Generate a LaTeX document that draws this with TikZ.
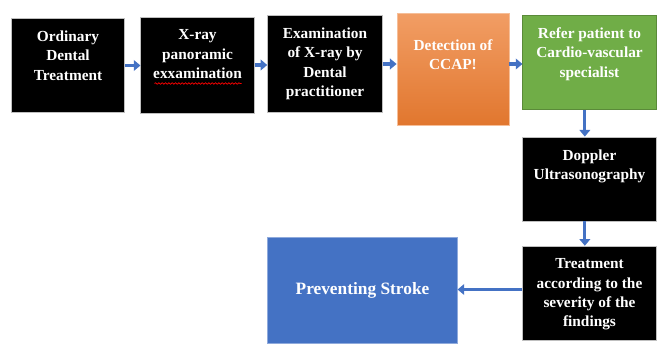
\documentclass[tikz,border=0pt]{standalone}
\usepackage{fontspec}
\setmainfont{Liberation Serif}
\usepackage{tikz}
\usetikzlibrary{positioning, arrows.meta, shapes.misc, decorations.pathmorphing}
\definecolor{myblue}{HTML}{4472C4}
\definecolor{myorange}{HTML}{ED7D31}
\definecolor{mygreen}{HTML}{70AD47}
\newcommand{\boxtxt}[3]{\parbox[c][#2][t]{#1}{\centering\vspace*{6.5pt}#3}}
\tikzset{
	stepnode/.style={
			rectangle,
			draw=gray!50,
			line width=0.6pt,
			text=white,
			font=\fontsize{11.5}{14.5}\selectfont\bfseries,
			inner sep=3pt
		},
	blacknode/.style={
			stepnode,
			fill=black
		},
	orangenode/.style={
			stepnode,
			draw=myorange!50,
			top color=myorange!75!white,
			bottom color=myorange!95!black
		},
	greennode/.style={
			stepnode,
			draw=mygreen!80!black,
			fill=mygreen
		},
	bluenode/.style={
			stepnode,
			draw=myblue!60,
			fill=myblue,
			font=\fontsize{13}{16}\selectfont\bfseries
		},
	flowarrow/.style={
			draw=myblue,
			line width=2.4pt,
			-{Triangle[length=5pt,width=8pt]}
		},
	spellwave/.style={
			red,
			line width=0.5pt,
			decorate,
			decoration={snake, amplitude=0.6pt, segment length=2.5pt}
		}
}

\begin{document}
\begin{tikzpicture}[x=0.75pt, y=-0.75pt]
\useasboundingbox (0,0) rectangle (657,343);
\node[blacknode] (ordinary) at (68,65.5) {\boxtxt{79pt}{65pt}{Ordinary\\ Dental\\ Treatment}};
\node[blacknode] (xray) at (197.5,65) {\boxtxt{79pt}{66pt}{X-ray\\ panoramic\\ exxamination}};
\node[blacknode] (exam) at (325,64) {\boxtxt{80pt}{67pt}{Examination\\ of X-ray by\\ Dental\\ practitioner}};
\node[orangenode] (detect) at (453,69) {\boxtxt{78pt}{78pt}{\vspace*{10.5pt}Detection of\\ CCAP!}};
\node[greennode] (refer) at (589.5,62.5) {\boxtxt{94pt}{65pt}{Refer patient to\\ Cardio-vascular\\ specialist}};
\node[blacknode] (doppler) at (589.5,179) {\boxtxt{94pt}{57pt}{Doppler\\ Ultrasonography}};
\node[blacknode] (treat) at (589.5,293.5) {\boxtxt{94pt}{65pt}{Treatment\\ according to the\\ severity of the\\ findings}};
\node[bluenode, minimum width=142pt, minimum height=79pt] (stroke) at (362.5,290.5) {Preventing Stroke};

% spell-check underline
\draw[spellwave] ([shift={(-43,18.5)}]xray.center) -- ++(87,0);

\draw[flowarrow] (ordinary.east) -- (ordinary.east -| xray.west);
\draw[flowarrow] (xray.east) -- (xray.east -| exam.west);
\draw[flowarrow] (exam.east) -- (exam.east -| detect.west);
\draw[flowarrow] (detect.east |- exam.east) -- (refer.west |- exam.east);
\draw[flowarrow] ([xshift=-3.5pt]refer.south) -- ([xshift=-3.5pt]doppler.north);
\draw[flowarrow] ([xshift=-3.5pt]doppler.south) -- ([xshift=-3.5pt]treat.north);
\draw[flowarrow] ([yshift=3pt]treat.west) -- ([yshift=3pt]treat.west -| stroke.east);
\end{tikzpicture}
\end{document}
